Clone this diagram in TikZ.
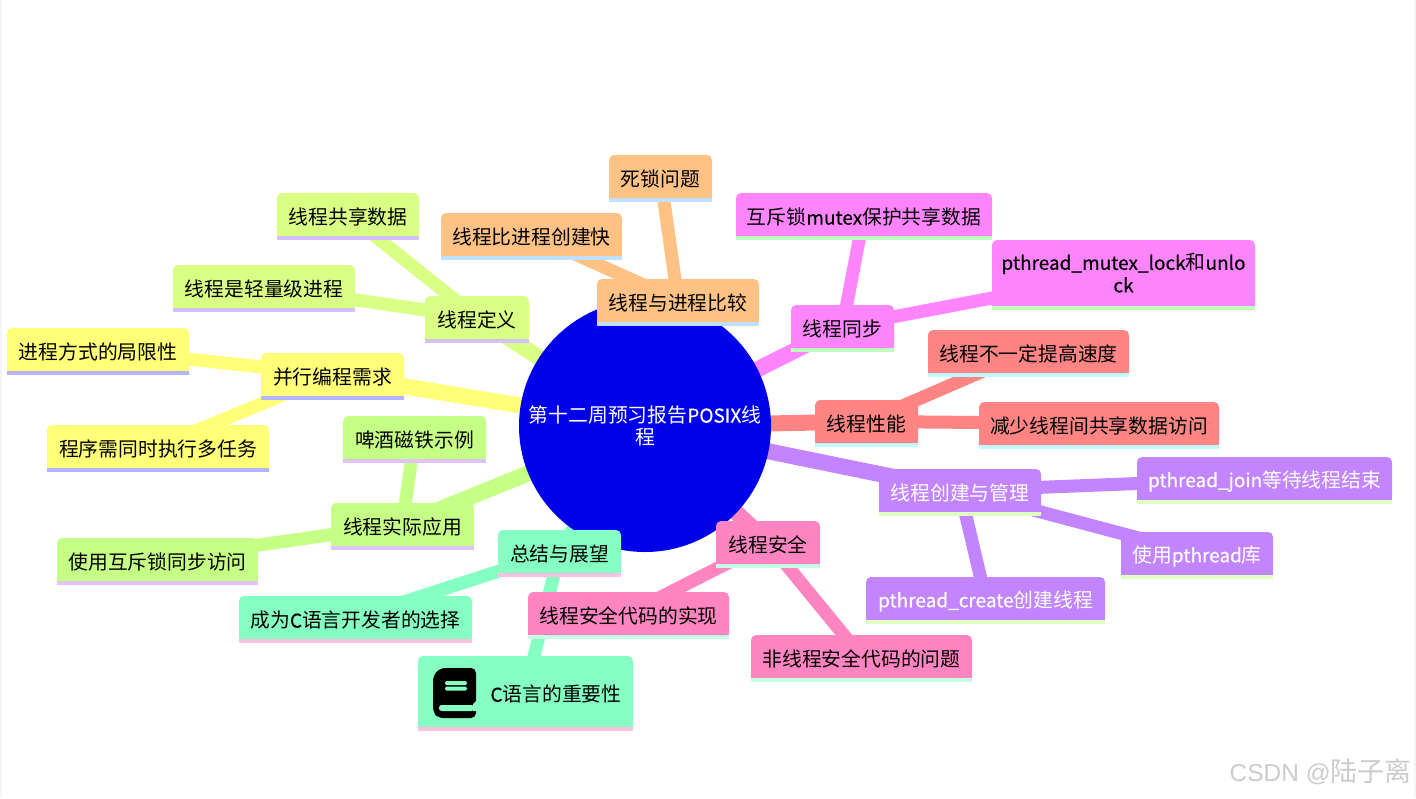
\documentclass[tikz,border=0pt]{standalone}
\usepackage{fontspec}
\setmainfont{Noto Sans CJK SC}
\newfontfamily\markfont{Liberation Sans}
\newfontfamily\latinfont[FakeBold=0.35,Scale=0.96]{Noto Sans CJK SC}
\usetikzlibrary{backgrounds}

\definecolor{rootblue}{HTML}{0000EB}
\definecolor{needbody}{HTML}{FFFF78}
\definecolor{neededge}{HTML}{B5B5FF}
\definecolor{definebody}{HTML}{D9FF85}
\definecolor{defineedge}{HTML}{D5BFFF}
\definecolor{usebody}{HTML}{C6FF85}
\definecolor{useedge}{HTML}{E0C2FF}
\definecolor{endbody}{HTML}{85FFC2}
\definecolor{endedge}{HTML}{FFC2E0}
\definecolor{safebody}{HTML}{FF85C2}
\definecolor{safeedge}{HTML}{C4FFE3}
\definecolor{makebody}{HTML}{C285FF}
\definecolor{makeedge}{HTML}{E0FFC2}
\definecolor{speedbody}{HTML}{FF8585}
\definecolor{speededge}{HTML}{BFFFFF}
\definecolor{syncbody}{HTML}{FF85FF}
\definecolor{syncedge}{HTML}{BFFFBF}
\definecolor{comparebody}{HTML}{FFC285}
\definecolor{compareedge}{HTML}{BFE0FF}

\newcommand{\lat}[1]{{\latinfont #1}}

\tikzset{
  topic/.style={fill=#1, rounded corners=5pt, inner sep=0pt, align=center,
    font=\fontsize{19.8}{22.5}\selectfont, execute at begin node={\rule{0pt}{22pt}}},
  branch/.style={line width=16pt, #1},
  twig/.style={line width=13pt, #1},
}

\begin{document}
\begin{tikzpicture}[x=1pt, y=-1pt]
    \useasboundingbox (0,0) rectangle (1416,798);
    \draw[gray!8, line width=1.5pt] (1,0) -- (1,798);
    \draw[gray!8, line width=1.5pt] (1415,0) -- (1415,798);

    % 中心
    \node[circle, fill=rootblue, minimum size=252pt, inner sep=0pt, align=center, text=white,
      font=\fontsize{19.8}{22}\selectfont, execute at begin node={\rule{0pt}{22pt}}] (root) at (645,426) {第十二周预习报告\lat{POSIX}线\\程};

    % 并行编程需求
    \node[topic=needbody, minimum width=143pt, minimum height=43pt] (need) at (332.5,374.5) {并行编程需求};
    \node[topic=needbody, minimum width=182pt, minimum height=43pt] (limit) at (98,349.5) {进程方式的局限性};
    \node[topic=needbody, minimum width=222pt, minimum height=43pt] (multi) at (158,446.5) {程序需同时执行多任务};

    % 线程定义
    \node[topic=definebody, minimum width=104pt, minimum height=43pt] (define) at (477,317.5) {线程定义};
    \node[topic=definebody, minimum width=142pt, minimum height=43pt] (share) at (348,214.5) {线程共享数据};
    \node[topic=definebody, minimum width=182pt, minimum height=43pt] (light) at (264,286.5) {线程是轻量级进程};

    % 线程实际应用
    \node[topic=usebody, minimum width=143pt, minimum height=43pt] (use) at (402.5,524.5) {线程实际应用};
    \node[topic=usebody, minimum width=143pt, minimum height=43pt] (beer) at (414.5,437.5) {啤酒磁铁示例};
    \node[topic=usebody, minimum width=201pt, minimum height=43pt] (lockuse) at (157.5,559.5) {使用互斥锁同步访问};

    % 总结与展望
    \node[topic=endbody, minimum width=123pt, minimum height=43pt] (summary) at (559.5,551.5) {总结与展望};
    \node[topic=endbody, minimum width=233pt, minimum height=43pt] (choice) at (355.5,617.5) {成为\lat{C}语言开发者的选择};
    \node[topic=endbody, minimum width=215pt, minimum height=71pt] (clang) at (525.5,691.5) {\hspace*{61pt}\lat{C}语言的重要性};

    % 线程安全
    \node[topic=safebody, minimum width=104pt, minimum height=43pt] (safe) at (768,542.5) {线程安全};
    \node[topic=safebody, minimum width=201pt, minimum height=43pt] (safecode) at (628.5,613.5) {线程安全代码的实现};
    \node[topic=safebody, minimum width=221pt, minimum height=43pt] (unsafe) at (861.5,656.5) {非线程安全代码的问题};

    % 线程创建与管理
    \node[topic=makebody, text=white, minimum width=162pt, minimum height=43pt] (make) at (960,490.5) {线程创建与管理};
    \node[topic=makebody, text=white, minimum width=255pt, minimum height=43pt] (join) at (1264.5,478.5) {\lat{pthread\_join}等待线程结束};
    \node[topic=makebody, text=white, minimum width=152pt, minimum height=43pt] (lib) at (1197,553.5) {使用\lat{pthread}库};
    \node[topic=makebody, text=white, minimum width=239pt, minimum height=43pt] (create) at (985.5,598.5) {\lat{pthread\_create}创建线程};

    % 线程性能
    \node[topic=speedbody, minimum width=103pt, minimum height=43pt] (speed) at (866.5,421.5) {线程性能};
    \node[topic=speedbody, minimum width=201pt, minimum height=43pt] (notfast) at (1028.5,351.5) {线程不一定提高速度};
    \node[topic=speedbody, minimum width=240pt, minimum height=43pt] (less) at (1099,423.5) {减少线程间共享数据访问};

    % 线程同步
    \node[topic=syncbody, minimum width=103pt, minimum height=43pt] (sync) at (842.5,326.5) {线程同步};
    \node[topic=syncbody, minimum width=256pt, minimum height=43pt] (mutex) at (864,214.5) {互斥锁\lat{mutex}保护共享数据};
    \node[topic=syncbody, minimum width=263pt, minimum height=66pt] (lockapi) at (1123.5,273) {\lat{pthread\_mutex\_lock}和\lat{unlo}\\\lat{ck}};

    % 线程与进程比较
    \node[topic=comparebody, minimum width=162pt, minimum height=43pt] (compare) at (678,300.5) {线程与进程比较};
    \node[topic=comparebody, minimum width=181pt, minimum height=43pt] (faster) at (531.5,234.5) {线程比进程创建快};
    \node[topic=comparebody, minimum width=103pt, minimum height=43pt] (dead) at (660.5,176.5) {死锁问题};

    % 底边
    \foreach \id/\body/\edge in {need/needbody/neededge, limit/needbody/neededge, multi/needbody/neededge,
      define/definebody/defineedge, share/definebody/defineedge, light/definebody/defineedge,
      use/usebody/useedge, beer/usebody/useedge, lockuse/usebody/useedge,
      summary/endbody/endedge, choice/endbody/endedge, clang/endbody/endedge,
      safe/safebody/safeedge, safecode/safebody/safeedge, unsafe/safebody/safeedge,
      make/makebody/makeedge, join/makebody/makeedge, lib/makebody/makeedge, create/makebody/makeedge,
      speed/speedbody/speededge, notfast/speedbody/speededge, less/speedbody/speededge,
      sync/syncbody/syncedge, mutex/syncbody/syncedge, lockapi/syncbody/syncedge,
      compare/comparebody/compareedge, faster/comparebody/compareedge, dead/comparebody/compareedge}{
        \fill[\body] (\id.south west) rectangle ([yshift=6pt]\id.south east);
        \fill[\edge] (\id.south west) rectangle ([yshift=-4pt]\id.south east);
    }

    % 书
    \fill[black, rounded corners=5pt] (433,676) -- (433,712) -- (438,718) -- (476,718) -- (476,703) -- (476,668) -- (440,668) -- cycle;
    \fill[endbody, rounded corners=1.5pt] (445,681) rectangle (467,685);
    \fill[endbody, rounded corners=1.5pt] (445,686.5) rectangle (467,690.5);
    \fill[endbody, rounded corners=2.5pt] (474,705) -- (439,705) -- (439,711) -- (474,711) -- cycle;
    \fill[endbody] (473,704) -- (477,700) -- (477,711) -- (473,711) -- cycle;

    % 连线
    \begin{scope}[on background layer]
        \fill[white] (0,0) rectangle (1416,798);
        \draw[branch=needbody] (root.center) -- (need.center);
        \draw[twig=needbody] (need.center) -- (limit.center);
        \draw[twig=needbody] (need.center) -- (multi.center);
        \draw[branch=definebody] (root.center) -- (define.center);
        \draw[twig=definebody] (define.center) -- (share.center);
        \draw[twig=definebody] (define.center) -- (light.center);
        \draw[branch=usebody] (root.center) -- (use.center);
        \draw[twig=usebody] (use.center) -- (beer.center);
        \draw[twig=usebody] (use.center) -- (lockuse.center);
        \draw[branch=endbody] (root.center) -- (summary.center);
        \draw[twig=endbody] (summary.center) -- (choice.center);
        \draw[twig=endbody] (summary.center) -- (clang.center);
        \draw[branch=safebody] (root.center) -- (safe.center);
        \draw[twig=safebody] (safe.center) -- (safecode.center);
        \draw[twig=safebody] (safe.center) -- (unsafe.center);
        \draw[branch=makebody] (root.center) -- (make.center);
        \draw[twig=makebody] (make.center) -- (join.center);
        \draw[twig=makebody] (make.center) -- (lib.center);
        \draw[twig=makebody] (make.center) -- (create.center);
        \draw[branch=speedbody] (root.center) -- (speed.center);
        \draw[twig=speedbody] (speed.center) -- (notfast.center);
        \draw[twig=speedbody] (speed.center) -- (less.center);
        \draw[branch=syncbody] (root.center) -- (sync.center);
        \draw[twig=syncbody] (sync.center) -- (mutex.center);
        \draw[twig=syncbody] (sync.center) -- (lockapi.center);
        \draw[branch=comparebody] (root.center) -- (compare.center);
        \draw[twig=comparebody] (compare.center) -- (faster.center);
        \draw[twig=comparebody] (compare.center) -- (dead.center);
    \end{scope}

    % 水印
    \node[anchor=east, inner sep=0pt, text=gray!40] (mark) at (1412,772) {{\markfont\fontsize{24.5}{30}\selectfont CSDN @}{\fontsize{27}{30}\selectfont 陆子离}};
\end{tikzpicture}
\end{document}
